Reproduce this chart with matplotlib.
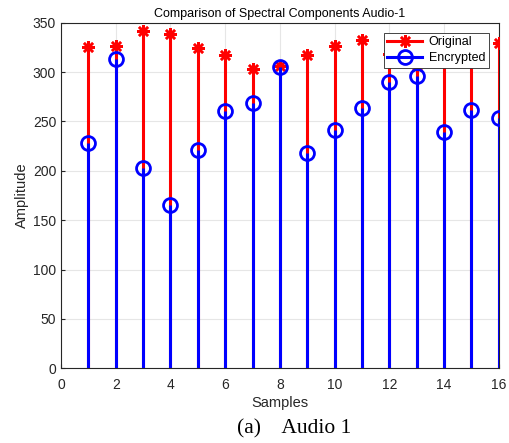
import matplotlib.pyplot as plt
import numpy as np
from matplotlib.legend_handler import HandlerLine2D

# values (Audio 1, 16 samples)
samples = np.arange(1, 17)
original = [325, 326, 342, 339, 324, 317, 303, 306, 317, 326, 332, 318, 306, 318, 312, 329]
encrypted = [228, 313, 203, 165, 221, 261, 269, 305, 218, 241, 264, 290, 296, 239, 262, 253]

x_ticks = list(range(0, 17, 2))
y_ticks = list(range(0, 351, 50))


class StemHandler(HandlerLine2D):
    # MATLAB style stem legend entry: marker at the right end of the line
    def get_xdata(self, legend, xdescent, ydescent, width, height, fontsize):
        xdata = np.array([-xdescent, -xdescent + width])
        return xdata, np.array([-xdescent + width * 0.85])


plt.rcParams['font.family'] = ['Liberation Sans', 'DejaVu Sans']

fig = plt.figure(figsize=(5.1, 4.43), dpi=100)
ax = fig.add_axes([0.1196, 0.1686, 0.8584, 0.7802])

star = (8, 2, 0)

# red stems first, blue drawn on top
ax.vlines(samples, 0, original, colors='#ff0000', linewidth=2.2, zorder=3)
ax.plot(samples, original, linestyle='none', marker=star, markersize=9,
        color='#ff0000', markeredgewidth=1.8, zorder=4)
ax.vlines(samples, 0, encrypted, colors='#0000ff', linewidth=2.2, zorder=5)
ax.plot(samples, encrypted, linestyle='none', marker='o', markersize=10,
        markerfacecolor='none', markeredgecolor='#0000ff', markeredgewidth=2.0, zorder=6)

h1, = ax.plot([], [], color='#ff0000', linewidth=2.2, marker=star, markersize=9,
              markeredgewidth=1.8)
h2, = ax.plot([], [], color='#0000ff', linewidth=2.2, marker='o', markersize=10,
              markerfacecolor='none', markeredgewidth=2.0)
leg = ax.legend([h1, h2], ['Original', 'Encrypted'], loc='upper right',
                fontsize=9, frameon=True, fancybox=False, framealpha=1,
                edgecolor='#262626', borderaxespad=0.8, handlelength=2.8,
                borderpad=0.3, labelspacing=0.3, handletextpad=0.5,
                handler_map={h1: StemHandler(), h2: StemHandler()})
leg.get_frame().set_linewidth(0.6)
leg.set_zorder(10)

ax.set_xlim(0, 16)
ax.set_ylim(0, 350)
ax.set_xticks(x_ticks)
ax.set_yticks(y_ticks)
ax.grid(True, color='#e6e6e6', linewidth=0.8, zorder=0)
ax.set_axisbelow(True)
ax.tick_params(labelsize=10, colors='#262626', direction='in', length=3)
ax.tick_params(axis='x', pad=7)
for sp in ax.spines.values():
    sp.set_color('#262626')
    sp.set_linewidth(0.8)

ax.set_title('Comparison of Spectral Components Audio-1', fontsize=9,
             color='black', pad=4)
ax.set_xlabel('Samples', fontsize=10.5, color='#262626', labelpad=3)
ax.set_ylabel('Amplitude', fontsize=10.5, color='#262626', labelpad=3)

fig.text(0.5775, 0.01, '(a)    Audio 1', fontsize=15.5,
         family=['Liberation Serif', 'DejaVu Serif'], ha='center', va='bottom')

fig.savefig('out.png', dpi=100)
